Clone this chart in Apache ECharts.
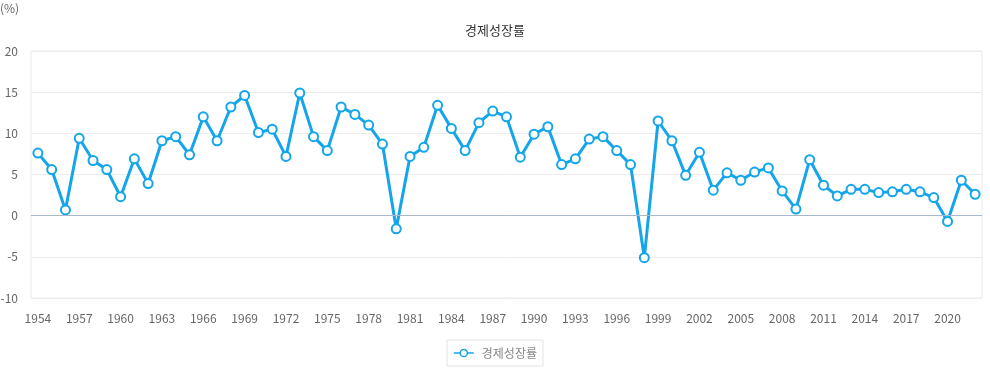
<!DOCTYPE html>
<html>
<head>
<meta charset="utf-8">
<script src="https://cdn.jsdelivr.net/npm/echarts@6/dist/echarts.min.js"></script>
<style>
  html, body { margin: 0; padding: 0; background: #fff; }
  #chart { width: 990px; height: 368px; }
</style>
</head>
<body>
<div id="chart"></div>
<script>
// 연도 (1954 ~ 2022)
const years = [];
for (let y = 1954; y <= 2022; y++) years.push(String(y));

// 경제성장률 (%)
const growth = [
  7.6, 5.6, 0.7, 9.4, 6.7, 5.6, 2.3, 6.9, 3.9, 9.1,
  9.6, 7.4, 12.0, 9.1, 13.2, 14.6, 10.1, 10.5, 7.2, 14.9,
  9.6, 7.9, 13.2, 12.3, 11.0, 8.7, -1.6, 7.2, 8.3, 13.4,
  10.6, 7.9, 11.3, 12.7, 12.0, 7.1, 9.9, 10.8, 6.2, 6.9,
  9.3, 9.6, 7.9, 6.2, -5.1, 11.5, 9.1, 4.9, 7.7, 3.1,
  5.2, 4.3, 5.3, 5.8, 3.0, 0.8, 6.8, 3.7, 2.4, 3.2,
  3.2, 2.8, 2.9, 3.2, 2.9, 2.2, -0.7, 4.3, 2.6
];

const yTicks = [-10, -5, 0, 5, 10, 15, 20];

const chart = echarts.init(document.getElementById('chart'));
const option = {
  backgroundColor: '#fff',
  textStyle: { fontFamily: '"Noto Sans CJK KR", "Noto Sans", sans-serif' },
  title: {
    text: '경제성장률',
    left: 'center',
    top: 19,
    textStyle: { fontSize: 13, fontWeight: 'normal', color: '#333' }
  },
  graphic: [{
    type: 'text',
    left: 0,
    top: 2,
    style: { text: '(%)', fontSize: 12, fill: '#666', fontFamily: '"Noto Sans CJK KR", sans-serif' }
  }],
  legend: {
    bottom: 2,
    left: 'center',
    data: ['경제성장률'],
    borderColor: '#e3e3e3',
    borderWidth: 1,
    padding: [7, 6, 7, 6],
    itemWidth: 20,
    itemHeight: 9,
    itemGap: 10,
    lineStyle: { width: 1.5 },
    itemStyle: { borderWidth: 1.5 },
    textStyle: { fontSize: 12, color: '#888', padding: [0, 0, 0, 3] }
  },
  grid: {
    left: 31, right: 8, top: 51, bottom: 70,
    outerBoundsMode: 'none', containLabel: false,
    show: true, borderColor: '#ebebeb', borderWidth: 1
  },
  xAxis: {
    type: 'category',
    data: years,
    boundaryGap: true,
    axisLine: { show: false },
    axisTick: { show: false },
    axisLabel: { interval: 2, color: '#666', fontSize: 12, margin: 14 },
    splitLine: { show: false }
  },
  yAxis: {
    type: 'value',
    min: yTicks[0],
    max: yTicks[yTicks.length - 1],
    interval: 5,
    axisLine: { show: false },
    axisTick: { show: false },
    axisLabel: { color: '#666', fontSize: 12, margin: 13 },
    splitLine: { lineStyle: { color: '#ececec' } }
  },
  series: [{
    name: '경제성장률',
    type: 'line',
    data: growth,
    symbol: 'circle',
    symbolSize: 9,
    lineStyle: { color: '#14a5ea', width: 3 },
    itemStyle: { color: '#fff', borderColor: '#14a5ea', borderWidth: 2 },
    markLine: {
      silent: true,
      symbol: 'none',
      label: { show: false },
      lineStyle: { color: '#a6bacc', type: 'solid', width: 1 },
      data: [{ yAxis: 0 }]
    }
  }]
};
chart.setOption(option);
</script>
</body>
</html>
